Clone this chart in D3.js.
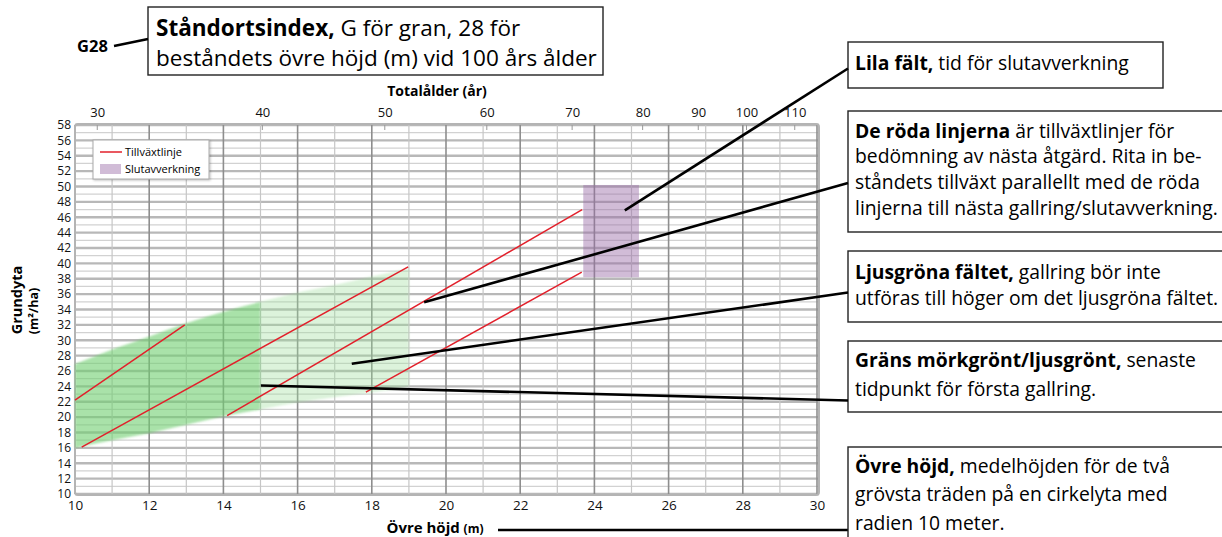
<!DOCTYPE html>
<html><head><meta charset="utf-8">
<script src="https://cdn.jsdelivr.net/npm/d3@7"></script>
<style>
body{margin:0;background:#fff}
svg{display:block}
text{font-family:"Open Sans",sans-serif}
</style>
</head><body>
<svg id="c" width="1222" height="537"></svg>
<script>
// ---------- data ----------
const heightTicks = [10,12,14,16,18,20,22,24,26,28,30];          // Övre höjd (m)
const basalAreaTicks = d3.range(10, 59, 2);                        // Grundyta (m²/ha)
const ageLabels  = ["30","40","50","60","70","80","90","100","110"]; // Totalålder (år)
const ageHeights = [10.6,15.05,18.35,21.1,23.4,25.3,26.8,28.1,29.4];

// thinning band (green)
const bandHeights = [10,11,12,13,14,15,16,17,18,19];
const bandLower   = [16.0,17.0,17.9,19.0,20.1,21.0,21.9,22.6,23.2,24.0];
const bandUpper   = [26.9,28.8,30.5,32.2,33.7,35.0,36.2,37.2,38.3,39.3];
const firstThinningLimit = 15;

// growth lines (red)
const growthStartH = [10.0,10.18,14.1,17.84];
const growthStartG = [22.2,16.1,20.2,23.26];
const growthEndH   = [12.96,18.98,23.67,23.66];
const growthEndG   = [32.0,39.55,47.0,38.85];

// final felling field (purple)
const harvestH = [23.7,25.2];
const harvestG = [38.2,50.2];

// annotation anchor points inside the chart (height, basal area)
const anchorH = [24.82,19.41,17.46,15.01];
const anchorG = [46.9,34.94,26.95,24.12];

// ---------- scales ----------
const svg = d3.select("#c");
const x = d3.scaleLinear().domain([10,30]).range([75,817]);
const y = d3.scaleLinear().domain([10,58]).range([494,125]);
const xRight = x(30) + 2;

const defs = svg.append("defs");
const f = defs.append("filter").attr("id","soft").attr("x","-5%").attr("y","-5%").attr("width","110%").attr("height","110%");
f.append("feGaussianBlur").attr("stdDeviation",1.3);
const sh = defs.append("filter").attr("id","shadow").attr("x","-10%").attr("y","-10%").attr("width","130%").attr("height","140%");
sh.append("feDropShadow").attr("dx",1).attr("dy",1).attr("stdDeviation",1).attr("flood-color","#000").attr("flood-opacity",0.25);

// ---------- grid ----------
const grid = svg.append("g");
grid.selectAll("line.h").data(d3.range(10,59)).join("line").attr("class","h")
  .attr("x1",x(10)).attr("x2",xRight).attr("y1",d=>y(d)).attr("y2",d=>y(d))
  .attr("stroke",d=>d%2===0?"#b8b8b8":"#d2d2d2").attr("stroke-width",d=>d%2===0?2.4:1.2);
grid.selectAll("line.v").data(d3.range(10,31)).join("line").attr("class","v")
  .attr("y1",y(58)).attr("y2",y(10)).attr("x1",d=>x(d)).attr("x2",d=>x(d))
  .attr("stroke",d=>d%2===0?"#8e8e8e":"#c6c6c6").attr("stroke-width",d=>d%2===0?1.6:1.2);
svg.append("rect").attr("x",x(10)).attr("y",y(58)-1).attr("width",xRight-x(10)).attr("height",y(10)-y(58)+2)
  .attr("rx",3).attr("fill","none").attr("stroke","#b4b4b4").attr("stroke-width",2);
// small top ticks at age positions
svg.append("g").selectAll("line").data(ageHeights).join("line")
  .attr("x1",d=>x(d)).attr("x2",d=>x(d)).attr("y1",y(58)).attr("y2",y(58)+5)
  .attr("stroke","#999").attr("stroke-width",1);

// ---------- green band ----------
const band = bandHeights.map((h,i)=>({h, lo:bandLower[i], hi:bandUpper[i]}));
const area = d3.area().x(d=>x(d.h)).y0(d=>y(d.lo)).y1(d=>y(d.hi)).curve(d3.curveMonotoneX);
svg.append("path").datum(band.filter(d=>d.h<=firstThinningLimit)).attr("d",area)
  .attr("fill","#6fcf6f").attr("fill-opacity",0.6).attr("filter","url(#soft)");
svg.append("path").datum(band.filter(d=>d.h>=firstThinningLimit)).attr("d",area)
  .attr("fill","#9fdf9a").attr("fill-opacity",0.36).attr("filter","url(#soft)");

// ---------- purple field ----------
svg.append("rect").attr("x",x(harvestH[0])).attr("y",y(harvestG[1]))
  .attr("width",x(harvestH[1])-x(harvestH[0])).attr("height",y(harvestG[0])-y(harvestG[1]))
  .attr("fill","#9a6aa6").attr("fill-opacity",0.45);

// ---------- growth lines ----------
svg.append("g").selectAll("line").data(growthStartH).join("line")
  .attr("x1",(d,i)=>x(growthStartH[i])).attr("y1",(d,i)=>y(growthStartG[i]))
  .attr("x2",(d,i)=>x(growthEndH[i])).attr("y2",(d,i)=>y(growthEndG[i]))
  .attr("stroke","#e2202b").attr("stroke-width",1.5);

// ---------- axes ----------
function styleAxis(g, size, family){
  g.select(".domain").remove();
  g.attr("font-family",null).attr("font-size",null);
  g.selectAll("text").attr("font-size",size).attr("fill","#111");
  if (family) g.selectAll("text").attr("font-family",family);
}
svg.append("g").attr("transform",`translate(${x(10)},0)`)
  .call(d3.axisLeft(y).tickValues(basalAreaTicks).tickSize(0).tickPadding(4))
  .call(g=>styleAxis(g,12,"DejaVu Sans"));
svg.append("g").attr("transform",`translate(0,${y(10)})`)
  .call(d3.axisBottom(x).tickValues(heightTicks).tickSize(0).tickPadding(6))
  .call(g=>styleAxis(g,13.5));
svg.append("g").attr("transform",`translate(0,${y(58)})`)
  .call(d3.axisTop(x).tickValues(ageHeights).tickFormat((d,i)=>ageLabels[i]).tickSize(0).tickPadding(8))
  .call(g=>styleAxis(g,13));

// axis titles
svg.append("text").attr("x",437).attr("y",96).attr("text-anchor","middle")
  .attr("font-weight","bold").attr("font-size",14).text("Totalålder (år)");
const xt = svg.append("text").attr("x",435).attr("y",533).attr("text-anchor","middle").attr("font-weight","bold");
xt.append("tspan").attr("font-size",15).text("Övre höjd ");
xt.append("tspan").attr("font-size",12).text("(m)");
svg.append("text").attr("transform","translate(22,300) rotate(-90)").attr("text-anchor","middle")
  .attr("font-weight","bold").attr("font-size",14.5).text("Grundyta");
svg.append("text").attr("transform","translate(38,311) rotate(-90)").attr("text-anchor","middle")
  .attr("font-weight","bold").attr("font-size",12.5).text("(m²/ha)");
svg.append("line").attr("x1",498).attr("x2",848).attr("y1",530).attr("y2",530)
  .attr("stroke","#000").attr("stroke-width",2.6);

// ---------- legend ----------
const lg = svg.append("g");
lg.append("rect").attr("x",93).attr("y",140).attr("width",116).attr("height",39)
  .attr("fill","#fff").attr("stroke","#aaa").attr("stroke-width",1).attr("filter","url(#shadow)");
lg.append("line").attr("x1",100).attr("x2",122).attr("y1",152).attr("y2",152).attr("stroke","#e2202b").attr("stroke-width",1.5);
lg.append("text").attr("x",125).attr("y",155.5).attr("font-size",11).text("Tillväxtlinje");
lg.append("rect").attr("x",100).attr("y",164).attr("width",21).attr("height",10).attr("fill","#9a6aa6").attr("fill-opacity",0.45);
lg.append("text").attr("x",125).attr("y",173).attr("font-size",11).text("Slutavverkning");

// ---------- annotations ----------
const boxes = [
  {x:848,y:42,w:315,h:46,lines:[[["Lila fält,",1],[" tid för slutavverkning",0]]],base:[70]},
  {x:848,y:111,w:400,h:121,lines:[
     [["De röda linjerna",1],[" är tillväxtlinjer för",0]],
     [["bedömning av nästa åtgärd. Rita in be-",0]],
     [["ståndets tillväxt parallellt med de röda",0]],
     [["linjerna till nästa gallring/slutavverkning.",0]]],base:[138,163,189,215]},
  {x:848,y:251,w:400,h:71,lines:[
     [["Ljusgröna fältet,",1],[" gallring bör inte",0]],
     [["utföras till höger om det ljusgröna fältet.",0]]],base:[279,305]},
  {x:848,y:341,w:400,h:71,lines:[
     [["Gräns mörkgrönt/ljusgrönt,",1],[" senaste",0]],
     [["tidpunkt för första gallring.",0]]],base:[367,396]},
  {x:848,y:447,w:400,h:120,lines:[
     [["Övre höjd,",1],[" medelhöjden för de två",0]],
     [["grövsta träden på en cirkelyta med",0]],
     [["radien 10 meter.",0]]],base:[473,501,530]}
];
const leaderEnds = [68.5,183,292.5,400.5];
const ann = svg.append("g");
boxes.forEach(b=>{
  ann.append("rect").attr("x",b.x).attr("y",b.y).attr("width",b.w).attr("height",b.h)
    .attr("fill","#fff").attr("stroke","#222").attr("stroke-width",1.4);
  b.lines.forEach((ln,i)=>{
    const t = ann.append("text").attr("x",b.x+7).attr("y",b.base[i]).attr("class","ann");
    ln.forEach(s=>t.append("tspan").attr("font-weight",s[1]?"bold":"normal").text(s[0]));
  });
});
// fit annotation font size so that the long line matches the reference width
let fs = 16;
ann.selectAll("text.ann").attr("font-size",fs);
const ref = ann.selectAll("text.ann").nodes()[4];
fs = fs * 363 / ref.getComputedTextLength();
ann.selectAll("text.ann").attr("font-size",fs);

// leader lines
svg.append("g").selectAll("line").data(anchorH).join("line")
  .attr("x1",(d,i)=>x(anchorH[i])).attr("y1",(d,i)=>y(anchorG[i]))
  .attr("x2",848).attr("y2",(d,i)=>leaderEnds[i])
  .attr("stroke","#000").attr("stroke-width",2.6);

// top box: site index
svg.append("rect").attr("x",148).attr("y",7).attr("width",455).attr("height",68)
  .attr("fill","#fff").attr("stroke","#222").attr("stroke-width",1.4);
const t1 = svg.append("text").attr("x",156).attr("y",36).attr("class","top");
t1.append("tspan").attr("font-weight","bold").text("Ståndortsindex,");
t1.append("tspan").text(" G för gran, 28 för");
const t2 = svg.append("text").attr("x",156).attr("y",66).attr("class","top").text("beståndets övre höjd (m) vid 100 års ålder");
svg.selectAll("text.top").attr("font-size",19);
const fs2 = 19 * 441 / t2.node().getComputedTextLength();
svg.selectAll("text.top").attr("font-size",fs2);
svg.append("text").attr("x",77).attr("y",52).attr("font-weight","bold").attr("font-size",16.5).text("G28");
svg.append("line").attr("x1",114).attr("y1",46).attr("x2",148).attr("y2",39)
  .attr("stroke","#000").attr("stroke-width",2.4);
</script>
</body></html>
